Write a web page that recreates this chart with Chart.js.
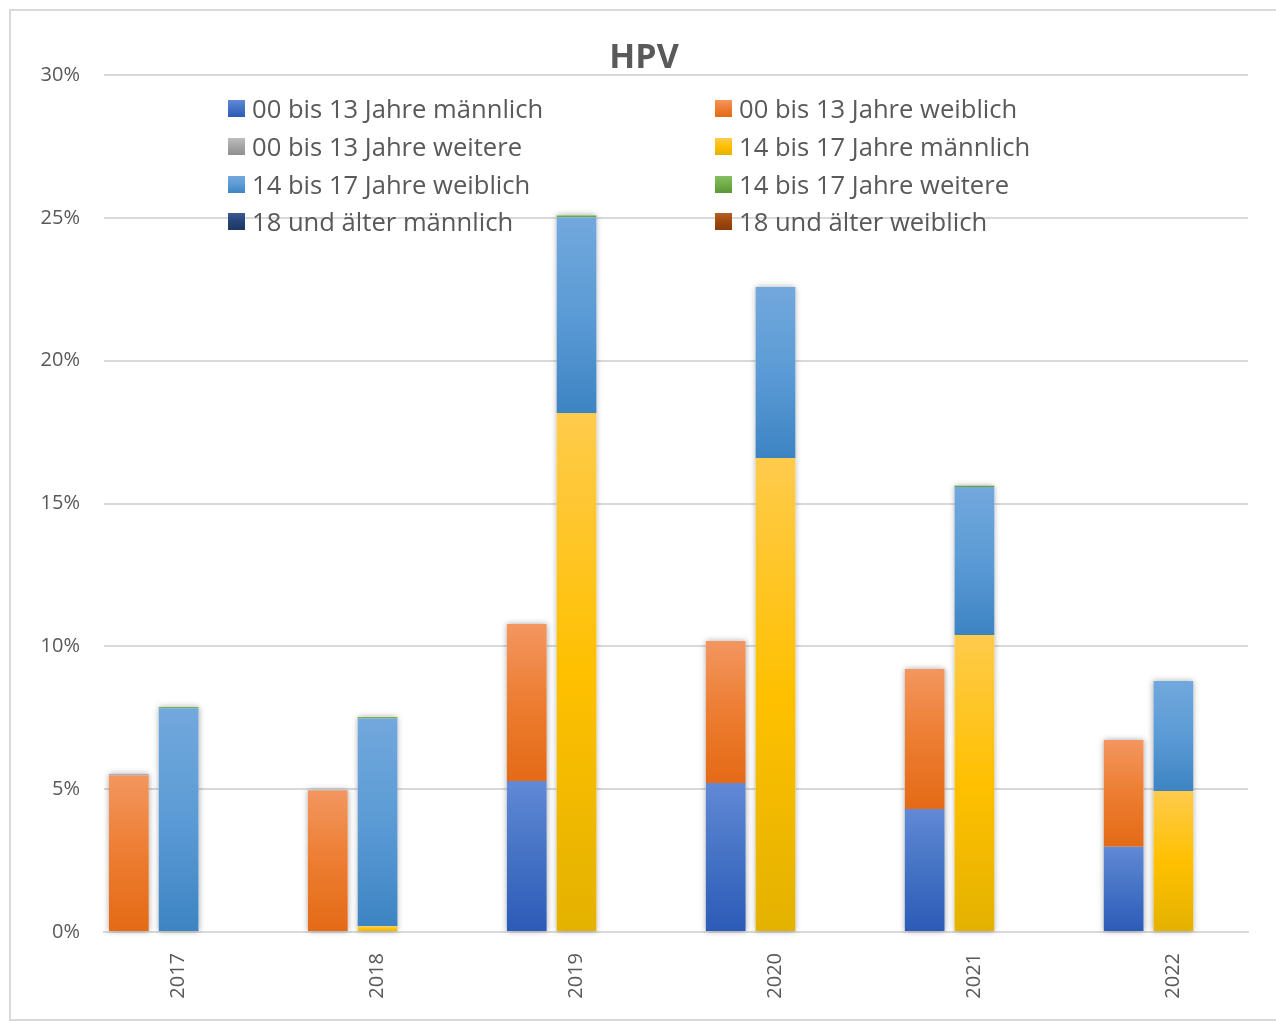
<!DOCTYPE html>
<html>
<head>
<meta charset="utf-8">
<script src="https://cdn.jsdelivr.net/npm/chart.js@4/dist/chart.umd.min.js"></script>
<style>
  html, body { margin: 0; padding: 0; background: #fff; overflow: hidden; }
  #wrap { position: relative; width: 1276px; height: 1021px; overflow: hidden; }
  #frame {
    position: absolute; left: 9px; top: 9px; width: 1300px; height: 1008px;
    border: 2px solid #d9d9d9;
  }
  #title {
    position: absolute; left: 0; width: 1288px; top: 32px; text-align: center;
    font: bold 34px "Open Sans", sans-serif; color: #595959;
  }
  .legend-item {
    position: absolute; height: 30px; display: flex; align-items: center;
    font: 25.6px "Open Sans", sans-serif; color: #595959; white-space: nowrap;
  }
  .legend-item span.box { width: 17px; height: 17px; margin-right: 7px; }
  canvas { position: absolute; left: 0; top: 0; }
</style>
</head>
<body>
<div id="wrap">
  <div id="frame"></div>
  <canvas id="hpvChart" width="1276" height="1021"></canvas>
  <div id="title">HPV</div>
  <div id="legend"></div>
</div>
<script>
const YEARS = ["2017", "2018", "2019", "2020", "2021", "2022"];

const SERIES_NAMES = [
  "00 bis 13 Jahre männlich",
  "00 bis 13 Jahre weiblich",
  "00 bis 13 Jahre weitere",
  "14 bis 17 Jahre männlich",
  "14 bis 17 Jahre weiblich",
  "14 bis 17 Jahre weitere",
  "18 und älter männlich",
  "18 und älter weiblich",
];

// age group of each series: 0 = 00-13, 1 = 14-17, 2 = 18+
const SERIES_GROUP = [0, 0, 0, 1, 1, 1, 2, 2];

// values in percent
const m00_13 = [0, 0, 5.29, 5.22, 4.31, 2.98];
const w00_13 = [5.48, 4.95, 5.49, 4.97, 4.9, 3.74];
const x00_13 = [0.05, 0.03, 0, 0, 0, 0];
const m14_17 = [0, 0.2, 18.17, 16.59, 10.4, 4.94];
const w14_17 = [7.83, 7.27, 6.85, 5.99, 5.18, 3.85];
const x14_17 = [0.05, 0.06, 0.07, 0, 0.05, 0];
const m18 = [0, 0, 0, 0, 0, 0];
const w18 = [0, 0, 0, 0, 0, 0];

const SERIES_VALUES = [m00_13, w00_13, x00_13, m14_17, w14_17, x14_17, m18, w18];

const Y_TICKS = [0, 5, 10, 15, 20, 25, 30];

// gradient colours: top, middle, bottom
const SERIES_COLOURS = [
  ["#6189d6", "#4472c4", "#2c5bb8"],
  ["#f3965f", "#ed7d31", "#e46a16"],
  ["#bdbdbd", "#a5a5a5", "#8f8f8f"],
  ["#ffcb4c", "#ffc000", "#e3b200"],
  ["#72a8dd", "#5b9bd5", "#3d84c3"],
  ["#86bf62", "#70ad47", "#5a9836"],
  ["#3a5a94", "#264478", "#1c3763"],
  ["#b4602a", "#9e480e", "#893c08"],
];

// each year uses 4 slots on the axis: 00-13 bar, 14-17 bar, two gaps (last year one gap)
const SLOTS_PER_YEAR = 4;
const slotCount = YEARS.length * SLOTS_PER_YEAR - 1;
const slotLabels = [];
for (let s = 0; s < slotCount; s++) {
  slotLabels.push(s % SLOTS_PER_YEAR === 1 ? YEARS[Math.floor(s / SLOTS_PER_YEAR)] : "");
}

function slotOf(group, yearIndex) {
  return yearIndex * SLOTS_PER_YEAR + Math.min(group, 1);
}

function slotData(seriesIndex) {
  const arr = new Array(slotCount).fill(null);
  SERIES_VALUES[seriesIndex].forEach((v, i) => {
    arr[slotOf(SERIES_GROUP[seriesIndex], i)] = v;
  });
  return arr;
}

function stackBase(seriesIndex, slot) {
  let sum = 0;
  for (let k = 0; k < seriesIndex; k++) {
    const v = slotData(k)[slot];
    if (v !== null) sum += v;
  }
  return sum;
}

function barGradient(seriesIndex) {
  return function (context) {
    const colours = SERIES_COLOURS[seriesIndex];
    const chart = context.chart;
    if (context.type !== "data" || !chart.chartArea || !chart.scales.y) return colours[1];
    const value = context.raw;
    if (value === null || value === undefined) return colours[1];
    const base = stackBase(seriesIndex, context.dataIndex);
    const yScale = chart.scales.y;
    const top = yScale.getPixelForValue(base + value);
    const bottom = yScale.getPixelForValue(base);
    if (!isFinite(top) || !isFinite(bottom) || top === bottom) return colours[1];
    const g = chart.ctx.createLinearGradient(0, top, 0, bottom);
    g.addColorStop(0, colours[0]);
    g.addColorStop(0.5, colours[1]);
    g.addColorStop(1, colours[2]);
    return g;
  };
}

// soft shadow behind each whole stack, drawn before the bars
const stackShadow = {
  id: "stackShadow",
  beforeDatasetsDraw(chart) {
    const rects = {};
    chart.data.datasets.forEach((ds, i) => {
      const meta = chart.getDatasetMeta(i);
      meta.data.forEach((el, j) => {
        const v = ds.data[j];
        if (v === null || v === 0) return;
        const r = rects[j] || { x: el.x, w: el.width, top: el.y, bottom: el.base };
        r.top = Math.min(r.top, el.y, el.base);
        r.bottom = Math.max(r.bottom, el.y, el.base);
        rects[j] = r;
      });
    });
    const ctx = chart.ctx;
    ctx.save();
    ctx.shadowColor = "rgba(0,0,0,0.35)";
    ctx.shadowBlur = 6;
    ctx.fillStyle = "#ffffff";
    Object.values(rects).forEach((r) => {
      ctx.fillRect(r.x - r.w / 2, r.top, r.w, r.bottom - r.top);
    });
    ctx.restore();
  },
};

const datasets = SERIES_NAMES.map((name, i) => ({
  label: name,
  data: slotData(i),
  backgroundColor: barGradient(i),
  borderWidth: 0,
  barPercentage: 0.8,
  categoryPercentage: 1,
}));

new Chart(document.getElementById("hpvChart"), {
  type: "bar",
  data: { labels: slotLabels, datasets: datasets },
  plugins: [stackShadow],
  options: {
    responsive: false,
    animation: false,
    layout: { padding: { top: 75, right: 28, bottom: 0, left: 0 } },
    plugins: {
      legend: { display: false },
      title: { display: false },
      tooltip: { enabled: false },
    },
    scales: {
      x: {
        stacked: true,
        grid: { display: false },
        border: { color: "#d9d9d9", width: 2 },
        ticks: {
          autoSkip: false,
          maxRotation: 90,
          minRotation: 90,
          padding: 13,
          color: "#595959",
          font: { family: "Open Sans", size: 20 },
        },
        afterFit(scale) {
          scale.height = 89;
        },
      },
      y: {
        stacked: true,
        min: 0,
        max: 30,
        afterBuildTicks(scale) {
          scale.ticks = Y_TICKS.map((v) => ({ value: v }));
        },
        grid: { color: "#d9d9d9", lineWidth: 2, drawTicks: false },
        border: { display: false },
        ticks: {
          padding: 24,
          color: "#595959",
          font: { family: "Open Sans", size: 20 },
          callback: (v) => v + "%",
        },
        afterFit(scale) {
          scale.width = 104;
        },
      },
    },
  },
});

// two-column legend laid over the plot
const legendEl = document.getElementById("legend");
const LEGEND_COLUMNS_X = [228, 715];
const LEGEND_ROWS_Y = [108, 146, 184, 221];
SERIES_NAMES.forEach((name, i) => {
  const c = SERIES_COLOURS[i];
  const item = document.createElement("div");
  item.className = "legend-item";
  item.style.left = LEGEND_COLUMNS_X[i % 2] + "px";
  item.style.top = LEGEND_ROWS_Y[Math.floor(i / 2)] - 15 + "px";
  const box = document.createElement("span");
  box.className = "box";
  box.style.background = "linear-gradient(" + c[0] + "," + c[1] + "," + c[2] + ")";
  const text = document.createElement("span");
  text.textContent = name;
  item.appendChild(box);
  item.appendChild(text);
  legendEl.appendChild(item);
});
</script>
</body>
</html>
